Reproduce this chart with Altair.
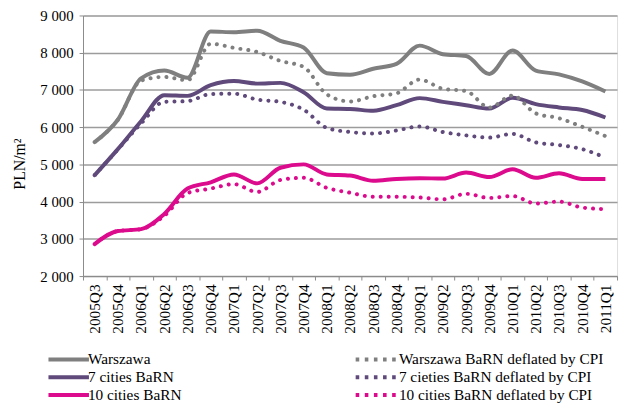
import altair as alt
import pandas as pd

quarters = ["2005Q3", "2005Q4", "2006Q1", "2006Q2", "2006Q3", "2006Q4", "2007Q1", "2007Q2",
            "2007Q3", "2007Q4", "2008Q1", "2008Q2", "2008Q3", "2008Q4", "2009Q1", "2009Q2",
            "2009Q3", "2009Q4", "2010Q1", "2010Q2", "2010Q3", "2010Q4", "2011Q1"]

warszawa = [5600, 6200, 7310, 7520, 7330, 8570, 8550, 8590, 8320, 8140, 7450, 7410,
            7570, 7700, 8190, 7960, 7910, 7430, 8060, 7520, 7420, 7230, 6960]
warszawa_defl = [5600, 6200, 7250, 7350, 7260, 8240, 8130, 8020, 7780, 7620, 6880, 6690,
                 6830, 6910, 7280, 7030, 6970, 6530, 6850, 6370, 6240, 6010, 5760]
seven = [4710, 5410, 6160, 6860, 6840, 7130, 7240, 7170, 7190, 6940, 6500, 6490,
         6440, 6590, 6780, 6680, 6590, 6500, 6790, 6620, 6530, 6460, 6260]
seven_defl = [4710, 5400, 6100, 6680, 6700, 6890, 6900, 6740, 6680, 6470, 5980, 5870,
              5830, 5910, 6020, 5870, 5780, 5720, 5820, 5590, 5520, 5410, 5180]
ten = [2860, 3210, 3260, 3670, 4350, 4520, 4730, 4490, 4910, 5000, 4730, 4700,
       4560, 4610, 4630, 4620, 4780, 4660, 4870, 4640, 4760, 4610, 4610]
ten_defl = [2860, 3210, 3260, 3620, 4230, 4350, 4470, 4260, 4580, 4640, 4370, 4240,
            4130, 4130, 4110, 4060, 4210, 4100, 4150, 3950, 4000, 3840, 3800]

solid_names = ["Warszawa", "7 cities BaRN", "10 cities BaRN"]
dotted_names = ["Warszawa BaRN deflated by CPI", "7 cieties BaRN deflated by CPI",
                "10 cities BaRN deflated by CPI"]
colors = ["#7f7f7f", "#5f4a7b", "#dc0a8c"]
y_ticks = [2000, 3000, 4000, 5000, 6000, 7000, 8000, 9000]

solid_rows = []
for name, vals in zip(solid_names, [warszawa, seven, ten]):
    for q, v in zip(quarters, vals):
        solid_rows.append({"quarter": q, "series": name, "value": v})
dotted_rows = []
for name, vals in zip(dotted_names, [warszawa_defl, seven_defl, ten_defl]):
    for q, v in zip(quarters, vals):
        dotted_rows.append({"quarter": q, "series": name, "value": v})
solid_df = pd.DataFrame(solid_rows)
dotted_df = pd.DataFrame(dotted_rows)

FONT = "Liberation Serif"

x_enc = alt.X("quarter:O", sort=quarters, bandPosition=0.5,
              scale=alt.Scale(type="band", paddingInner=0, paddingOuter=0),
              axis=alt.Axis(title=None, labelAngle=270, labelAlign="right", labelBaseline="middle",
                            tickBand="extent", tickSize=4, labelPadding=4, labelFont=FONT,
                            labelFontSize=15.5, labelColor="#000", domainColor="#8a8a8a",
                            tickColor="#8a8a8a", grid=False))
y_enc = alt.Y("value:Q",
              scale=alt.Scale(domain=[2000, 9000], nice=False, zero=False),
              axis=alt.Axis(values=y_ticks, title="PLN/m²",
                            labelExpr="replace(format(datum.value, ','), ',', ' ')",
                            labelFont=FONT, labelFontSize=15, labelColor="#000",
                            titleFont=FONT, titleFontSize=16, titleFontWeight="normal",
                            titleColor="#000", titleX=-56, titleY=150,
                            tickSize=4, labelPadding=6, domainColor="#8a8a8a",
                            tickColor="#8a8a8a", grid=True, gridColor="#9c9c9c",
                            gridWidth=1.5))

# legend symbol shapes (unit scale = sqrt(size)/2 = 7.25 px)
solid_path = "M -2.83 0 L 2.83 0"
dotted_path = "".join(f"M {x - 0.25:.3f} 0 L {x + 0.25:.3f} 0 "
                      for x in [-2.55, -1.275, 0, 1.275, 2.55])
SYM = 210

solid = alt.Chart(solid_df).mark_line(strokeWidth=4, interpolate="monotone").encode(
    x=x_enc, y=y_enc,
    color=alt.Color("series:N", sort=solid_names,
                    scale=alt.Scale(domain=solid_names, range=colors),
                    legend=alt.Legend(title=None, orient="none", legendX=-24, legendY=339,
                                      direction="vertical", symbolType=solid_path,
                                      symbolSize=SYM, symbolStrokeWidth=4, labelOffset=10,
                                      labelFont=FONT, labelFontSize=15.5, labelColor="#000",
                                      rowPadding=-1.5, padding=0, labelLimit=400))
)
dotted = alt.Chart(dotted_df).mark_line(strokeWidth=4, interpolate="monotone",
                                        strokeDash=[0.1, 8], strokeCap="round").encode(
    x=x_enc, y=y_enc,
    stroke=alt.Stroke("series:N", sort=dotted_names,
                      scale=alt.Scale(domain=dotted_names, range=colors),
                      legend=alt.Legend(title=None, orient="none", legendX=287, legendY=339,
                                        direction="vertical", symbolType=dotted_path,
                                        symbolSize=SYM, symbolStrokeWidth=4, labelOffset=14,
                                        labelFont=FONT, labelFontSize=15.5, labelColor="#000",
                                        rowPadding=-1.5, padding=0, labelLimit=400))
)

chart = alt.layer(solid, dotted).properties(
    width=541, height=264,
    autosize=alt.AutoSizeParams(type="none"),
    padding={"left": 76, "top": 5, "right": 3, "bottom": 126},
).configure_view(stroke=None).configure(background="white")

chart.save("out.html", embed_options={"renderer": "svg", "actions": False})
